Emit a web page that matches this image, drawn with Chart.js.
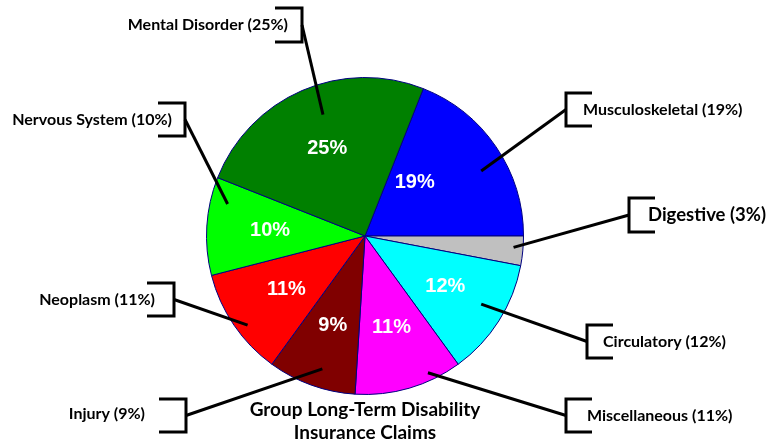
<!DOCTYPE html>
<html>
<head>
<meta charset="utf-8">
<script src="https://cdn.jsdelivr.net/npm/chart.js@4.4.0/dist/chart.umd.min.js"></script>
<style>
  html, body { margin: 0; padding: 0; background: #fff; }
  #wrap { width: 767px; height: 441px; }
</style>
</head>
<body>
<div id="wrap"><canvas id="pie" width="767" height="441"></canvas></div>
<script>
// data, clockwise from the top-right slice
const categories = ['Musculoskeletal', 'Digestive', 'Circulatory', 'Miscellaneous', 'Injury', 'Neoplasm', 'Nervous System', 'Mental Disorder'];
const shares = [19, 3, 12, 11, 9, 11, 10, 25];
const sliceColors = ['#0000FF', '#C0C0C0', '#00FFFF', '#FF00FF', '#800000', '#FF0000', '#00FF00', '#008000'];
const titleLines = ['Group Long-Term Disability', 'Insurance Claims'];

// callout layout (bracket side, bracket x, top/bottom y, text anchor) -- positions only
const callouts = [
  { side: 'L', bx: 566, top: 93, bot: 126, tx: 583, ty: 110, da: 5, rf: 0.84 },
  { side: 'L', bx: 629, top: 198, bot: 232, tx: 648, ty: 215, da: -1, rf: 0.94, big: true },
  { side: 'L', bx: 587, top: 325, bot: 358, tx: 603, ty: 342, da: -2, rf: 0.85 },
  { side: 'L', bx: 566, top: 399, bot: 432, tx: 587, ty: 416, da: -8.5, rf: 0.95 },
  { side: 'R', bx: 186, top: 399, bot: 432, tx: 145, ty: 414, da: -2, rf: 0.88 },
  { side: 'R', bx: 174, top: 283, bot: 316, tx: 155, ty: 300, da: -3, rf: 0.93 },
  { side: 'R', bx: 185, top: 103, bot: 136, tx: 172, ty: 120, da: 9.5, rf: 0.89 },
  { side: 'R', bx: 302, top: 8, bot: 42, tx: 288, ty: 25, da: 4.3, rf: 0.81 }
];
// inner percentage label placement (angle shift, radius fraction); null = no label
const pctPos = [[-12.8, 0.46], null, [0, 0.6], [0, 0.6], [0, 0.6], [0, 0.6], [0, 0.6], [0, 0.6]];

const labelFont = '"Lato", "Open Sans", sans-serif';
const deg = Math.PI / 180;

const calloutPlugin = {
  id: 'callouts',
  afterDatasetsDraw(chart) {
    const ctx = chart.ctx;
    const arcs = chart.getDatasetMeta(0).data;
    ctx.save();
    arcs.forEach((arc, i) => {
      const p = arc.getProps(['x', 'y', 'startAngle', 'endAngle', 'outerRadius'], true);
      const mid = (p.startAngle + p.endAngle) / 2;
      const c = callouts[i];

      // leader line
      const a = mid + c.da * deg;
      const r = p.outerRadius * c.rf;
      const lx = p.x + Math.cos(a) * r;
      const ly = p.y + Math.sin(a) * r;
      const my = (c.top + c.bot) / 2;
      ctx.strokeStyle = '#000';
      ctx.lineWidth = 3;
      ctx.lineCap = 'butt';
      ctx.beginPath();
      ctx.moveTo(lx, ly);
      ctx.lineTo(c.bx, my);
      ctx.stroke();

      // bracket
      const arm = c.side === 'L' ? 26 : -27;
      ctx.lineJoin = 'miter';
      ctx.beginPath();
      ctx.moveTo(c.bx + arm, c.top);
      ctx.lineTo(c.bx, c.top);
      ctx.lineTo(c.bx, c.bot);
      ctx.lineTo(c.bx + arm, c.bot);
      ctx.stroke();

      // label text
      ctx.fillStyle = '#000';
      ctx.font = 'bold ' + (c.big ? 18.5 : 16) + 'px ' + labelFont;
      ctx.textAlign = c.side === 'L' ? 'left' : 'right';
      ctx.textBaseline = 'middle';
      ctx.fillText(categories[i] + ' (' + shares[i] + '%)', c.tx, c.ty);

      // percentage inside slice
      if (!pctPos[i]) return;
      const pa = mid + pctPos[i][0] * deg;
      const pr = p.outerRadius * pctPos[i][1];
      ctx.fillStyle = '#fff';
      ctx.font = 'bold 20px "Liberation Sans", Arial, sans-serif';
      ctx.textAlign = 'center';
      ctx.fillText(shares[i] + '%', p.x + Math.cos(pa) * pr, p.y + Math.sin(pa) * pr);
    });

    // title under the pie
    ctx.fillStyle = '#000';
    ctx.font = 'bold 19px ' + labelFont;
    ctx.textAlign = 'center';
    ctx.textBaseline = 'middle';
    const cx = arcs[0].x;
    ctx.fillText(titleLines[0], cx, 410);
    ctx.fillText(titleLines[1], cx, 433);
    ctx.restore();
  }
};

new Chart(document.getElementById('pie'), {
  type: 'pie',
  data: {
    labels: categories,
    datasets: [{
      data: shares,
      backgroundColor: sliceColors,
      borderColor: '#000080',
      borderWidth: 1
    }]
  },
  options: {
    responsive: false,
    animation: false,
    rotation: 21.6,
    layout: { padding: { left: 206, right: 243, top: 77, bottom: 46 } },
    plugins: {
      legend: { display: false },
      tooltip: { enabled: false }
    }
  },
  plugins: [calloutPlugin]
});
</script>
</body>
</html>
